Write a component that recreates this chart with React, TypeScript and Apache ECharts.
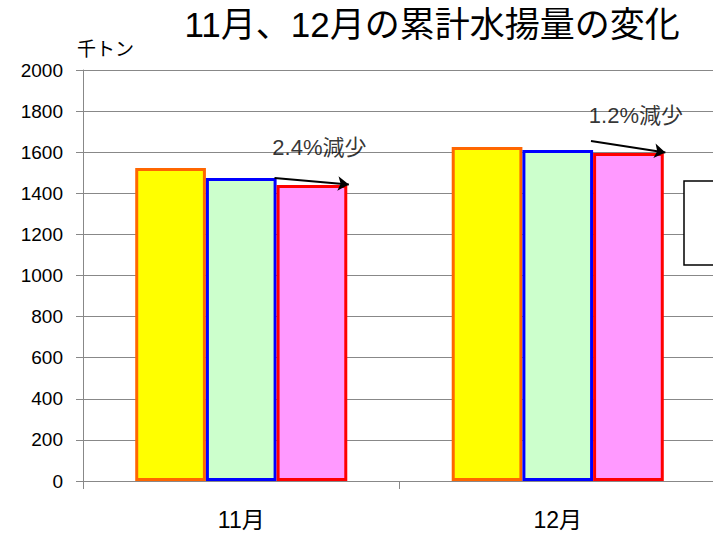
import React, { useEffect, useRef } from "react";
import * as echarts from "echarts";

const categories = ["11月", "12月"];
const seriesNames = ["系列1", "系列2", "系列3"];
const yellowValues = [1523, 1625];
const greenValues = [1474, 1611];
const pinkValues = [1440, 1596];
const changeLabels = ["2.4%減少", "1.2%減少"];
const yTicks = { min: 0, max: 2000, interval: 200 };

const FONT = "'Liberation Sans', 'Noto Sans CJK JP', sans-serif";

export default function App() {
  const ref = useRef<HTMLDivElement>(null);
  useEffect(() => {
    if (!ref.current) return;
    const chart = echarts.init(ref.current, null, { renderer: "svg" });
    const barStyle = (fill: string, border: string) => ({
      color: fill,
      borderColor: border,
      borderWidth: 3,
    });
    // hidden value axis spanning category bands: band i covers [i, i+1]
    const arrowLines = categories.map((_, i) => [
      { coord: [i + 0.605, greenValues[i] + (i === 1 ? 43 : 0)] },
      { coord: [i + 0.84, pinkValues[i] + 3] },
    ]);
    const labelPoints = categories.map((_, i) => ({
      name: changeLabels[i],
      value: [i + 0.747, greenValues[i] + (i === 0 ? 148 : 168)],
    }));
    chart.setOption({
      animation: false,
      title: [
        {
          text: "11月、12月の累計水揚量の変化",
          left: 427,
          top: 2,
          textAlign: "center",
          textStyle: { fontFamily: FONT, fontSize: 35, fontWeight: "normal", color: "#000" },
        },
        {
          text: "千トン",
          left: 72,
          top: 35,
          textStyle: { fontFamily: FONT, fontSize: 19, fontWeight: "normal", color: "#000" },
        },
      ],
      grid: { left: 83, right: 0, top: 70, bottom: 52, containLabel: false },
      xAxis: [
        {
          type: "category",
          data: categories,
          axisLine: { lineStyle: { color: "#888", width: 1 } },
          axisTick: { show: true, length: 8, lineStyle: { color: "#888" } },
          axisLabel: { margin: 27, fontSize: 23, color: "#000", fontFamily: FONT },
        },
        { type: "value", min: 0, max: 2, show: false },
      ],
      yAxis: {
        type: "value",
        min: yTicks.min,
        max: yTicks.max,
        interval: yTicks.interval,
        axisLine: { show: true, lineStyle: { color: "#888" } },
        axisTick: { show: true, length: 7, lineStyle: { color: "#888" } },
        axisLabel: {
          margin: 20,
          fontSize: 19,
          color: "#000",
          fontFamily: FONT,
          formatter: (v: number) => String(v),
        },
        splitLine: { lineStyle: { color: "#888", width: 1 } },
      },
      series: [
        {
          name: seriesNames[0],
          type: "bar",
          data: yellowValues,
          barGap: "0%",
          barCategoryGap: "33%",
          itemStyle: barStyle("#FFFF00", "#FF6600"),
        },
        {
          name: seriesNames[1],
          type: "bar",
          data: greenValues,
          itemStyle: barStyle("#CCFFCC", "#0000FF"),
        },
        {
          name: seriesNames[2],
          type: "bar",
          data: pinkValues,
          itemStyle: barStyle("#FF99FF", "#FF0000"),
        },
        {
          type: "scatter",
          xAxisIndex: 1,
          symbolSize: 0,
          data: labelPoints,
          label: {
            show: true,
            position: "inside",
            formatter: "{b}",
            fontFamily: FONT,
            fontSize: 22,
            color: "#000",
            textBorderWidth: 0,
          },
          markLine: {
            silent: true,
            symbol: ["none", "arrow"],
            symbolSize: 11,
            label: { show: false },
            lineStyle: { color: "#000", width: 2, type: "solid", opacity: 1 },
            itemStyle: { color: "#000" },
            data: arrowLines,
          },
          z: 5,
        },
      ],
      graphic: [
        {
          type: "rect",
          shape: { x: 684, y: 181, width: 60, height: 84 },
          style: { fill: "#fff", stroke: "#000", lineWidth: 1.5 },
          z: 100,
        },
      ],
    });
    return () => chart.dispose();
  }, []);
  return (
    <div style={{ position: "absolute", left: 0, top: 0, width: 713, height: 533, overflow: "hidden", background: "#fff" }}>
      <div ref={ref} style={{ width: 716, height: 533 }} />
    </div>
  );
}
